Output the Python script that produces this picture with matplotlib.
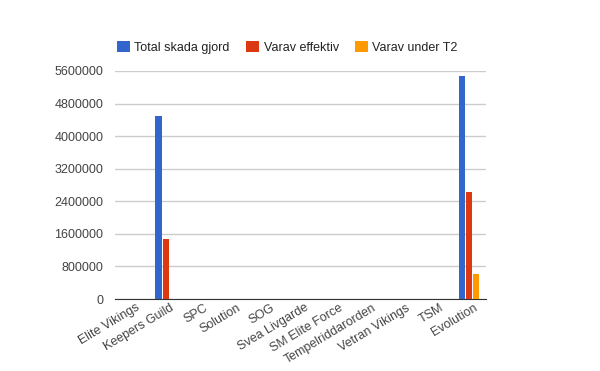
import matplotlib.pyplot as plt
import numpy as np

teams = ['Elite Vikings', 'Keepers Guild', 'SPC', 'Solution', 'SOG', 'Svea Livgarde',
         'SM Elite Force', 'Tempelriddarorden', 'Vetran Vikings', 'TSM', 'Evolution']
total_skada = [0, 4495000, 0, 0, 0, 0, 0, 0, 0, 0, 5477000]
varav_effektiv = [0, 1474000, 0, 0, 0, 0, 0, 0, 0, 0, 2628000]
varav_t2 = [0, 0, 0, 0, 0, 0, 0, 0, 0, 0, 614000]
yticks = [0, 800000, 1600000, 2400000, 3200000, 4000000, 4800000, 5600000]

plt.rcParams['font.family'] = ['Liberation Sans', 'DejaVu Sans']

fig = plt.figure(figsize=(6, 3.71), dpi=100)
ax = fig.add_axes([115/600, 1-299/371, 371/600, 228/371])

x = np.arange(len(teams))
w = 0.18
step = 0.21
ax.bar(x - step, total_skada, w, color='#3366cc', label='Total skada gjord', zorder=3)
ax.bar(x, varav_effektiv, w, color='#dc3912', label='Varav effektiv', zorder=3)
ax.bar(x + step, varav_t2, w, color='#ff9900', label='Varav under T2', zorder=3)

ax.set_xlim(-0.5, len(teams) - 0.5)
ax.set_ylim(0, 5600000)
ax.set_yticks(yticks)
ax.set_yticklabels([str(v) for v in yticks])
ax.grid(axis='y', color='#cccccc', linewidth=1, zorder=0)
for s in ['top', 'right', 'left']:
    ax.spines[s].set_visible(False)
ax.spines['bottom'].set_color('#333333')
ax.tick_params(axis='both', length=0, labelsize=9, colors='#444444')
ax.tick_params(axis='y', pad=8.5)

ax.set_xticks(x + 0.12)
ax.set_xticklabels(teams, rotation=31, ha='right', rotation_mode='anchor')
ax.tick_params(axis='x', pad=2)

fig.legend(loc='upper left', bbox_to_anchor=(112/600, 1-36/371), ncol=3, frameon=False,
           fontsize=9, handlelength=1.0, handleheight=1.0, handletextpad=0.4,
           columnspacing=1.3, labelcolor='#222222', borderaxespad=0)

fig.savefig('out.png', dpi=100)
